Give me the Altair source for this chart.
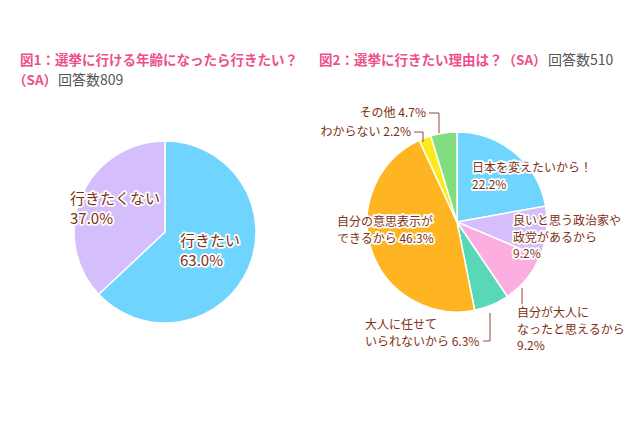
import altair as alt
import pandas as pd

# ---------------- data ----------------
q1_title = "図1：選挙に行ける年齢になったら行きたい？"
q1_sub = "（SA）"
q1_n = 809
q1_categories = ["行きたい", "行きたくない"]
q1_values = [63.0, 37.0]

q2_title = "図2：選挙に行きたい理由は？（SA）"
q2_n = 510
q2_categories = [
    "日本を変えたいから！",
    "良いと思う政治家や政党があるから",
    "自分が大人になったと思えるから",
    "大人に任せていられないから",
    "自分の意思表示ができるから",
    "わからない",
    "その他",
]
q2_values = [22.2, 9.2, 9.2, 6.3, 46.3, 2.2, 4.7]

# ---------------- styles / layout ----------------
q1_colors = ["#6fd4fe", "#d4befc"]
q2_colors = ["#6fd4fe", "#d4befc", "#fdaee0", "#58d8b6", "#ffb521", "#fee91c", "#80de80"]
PINK = "#ee4f8c"
GRAY = "#555555"
BROWN = "#7f3014"
LEADER = "#8b4b3b"
FONT = "Noto Sans CJK JP"

pies = {
    "q1": {"cx": 157, "cy": 224, "r": 91},
    "q2": {"cx": 449, "cy": 214, "r": 90},
}

# label display: (name with line breaks, separator before %, x, y_top, align)
label_layout = {
    "行きたい": ("行きたい", "\n", 172, 226, "left"),
    "行きたくない": ("行きたくない", "\n", 62, 184, "left"),
    "日本を変えたいから！": ("日本を変えたいから！", "\n", 464, 155, "left"),
    "良いと思う政治家や政党があるから": ("良いと思う政治家や\n政党があるから", "\n", 505, 208, "left"),
    "自分が大人になったと思えるから": ("自分が大人に\nなったと思えるから", "\n", 509, 300, "left"),
    "大人に任せていられないから": ("大人に任せて\nいられないから", " ", 357, 312, "left"),
    "自分の意思表示ができるから": ("自分の意思表示が\nできるから", " ", 329, 209, "left"),
    "わからない": ("わからない", " ", 403, 119, "right"),
    "その他": ("その他", " ", 418, 100, "right"),
}

# leader line segments (x, y, x2, y2)
leaders = [
    (421, 105, 431, 105), (431, 105, 431, 125),
    (406, 124, 415, 124), (415, 124, 415, 134),
    (514, 280, 514, 297),
    (475, 333, 482, 333), (482, 333, 482, 305),
]


def pie_layer(cats, vals, colors, lay):
    df = pd.DataFrame({"cat": cats, "value": vals, "order": list(range(len(cats)))})
    return alt.Chart(df).mark_arc(
        outerRadius=lay["r"], stroke="white", strokeWidth=1.5
    ).encode(
        theta=alt.Theta("value:Q", stack=True),
        color=alt.Color("cat:N", scale=alt.Scale(domain=cats, range=colors), legend=None),
        order=alt.Order("order:Q"),
        x=alt.value(lay["cx"]),
        y=alt.value(lay["cy"]),
    )


def label_rows(cats, vals):
    rows = []
    for c, v in zip(cats, vals):
        name, sep, x, y, align = label_layout[c]
        rows.append({"text": f"{name}{sep}{v:.1f}%", "x": x, "y": y, "align": align})
    return rows


def text_layers(rows, size, line_height):
    out = []
    for align in ["left", "right"]:
        sub = [r for r in rows if r["align"] == align]
        if not sub:
            continue
        df = pd.DataFrame(sub)
        enc = dict(
            x=alt.X("x:Q", scale=None),
            y=alt.Y("y:Q", scale=None),
            text="text:N",
        )
        halo = alt.Chart(df).mark_text(
            font=FONT, fontSize=size, lineBreak="\n", lineHeight=line_height,
            align=align, baseline="top", fill="white", stroke="white",
            strokeWidth=3.5, strokeJoin="round",
        ).encode(**enc)
        fg = alt.Chart(df).mark_text(
            font=FONT, fontSize=size, lineBreak="\n", lineHeight=line_height,
            align=align, baseline="top", color=BROWN,
        ).encode(**enc)
        out += [halo, fg]
    return out


arc1 = pie_layer(q1_categories, q1_values, q1_colors, pies["q1"])
arc2 = pie_layer(q2_categories, q2_values, q2_colors, pies["q2"])

lab1 = text_layers(label_rows(q1_categories, q1_values), 15, 20)
lab2 = text_layers(label_rows(q2_categories, q2_values), 12, 16.5)

lead_df = pd.DataFrame(leaders, columns=["x", "y", "x2", "y2"])
lead = alt.Chart(lead_df).mark_rule(color=LEADER, strokeWidth=1).encode(
    x=alt.X("x:Q", scale=None), y=alt.Y("y:Q", scale=None), x2="x2:Q", y2="y2:Q"
)

pink_df = pd.DataFrame([
    {"text": q1_title, "x": 12, "y": 53},
    {"text": q1_sub, "x": 5, "y": 73},
    {"text": q2_title, "x": 311, "y": 53},
])
gray_df = pd.DataFrame([
    {"text": f"回答数{q1_n}", "x": 50, "y": 73},
    {"text": f"回答数{q2_n}", "x": 540, "y": 53},
])
pink_t = alt.Chart(pink_df).mark_text(
    font=FONT, fontSize=13.5, fontWeight="bold", align="left", baseline="middle", color=PINK
).encode(x=alt.X("x:Q", scale=None), y=alt.Y("y:Q", scale=None), text="text:N")
gray_t = alt.Chart(gray_df).mark_text(
    font=FONT, fontSize=14, align="left", baseline="middle", color=GRAY
).encode(x=alt.X("x:Q", scale=None), y=alt.Y("y:Q", scale=None), text="text:N")

chart = alt.layer(
    arc1, arc2, lead, *lab1, *lab2, pink_t, gray_t
).resolve_scale(
    theta="independent", color="independent"
).properties(
    width=624, height=410, padding=0, autosize=alt.AutoSizeParams(type="none")
).configure_view(stroke=None)

chart.save("out.html", embed_options={"renderer": "svg", "actions": False})
